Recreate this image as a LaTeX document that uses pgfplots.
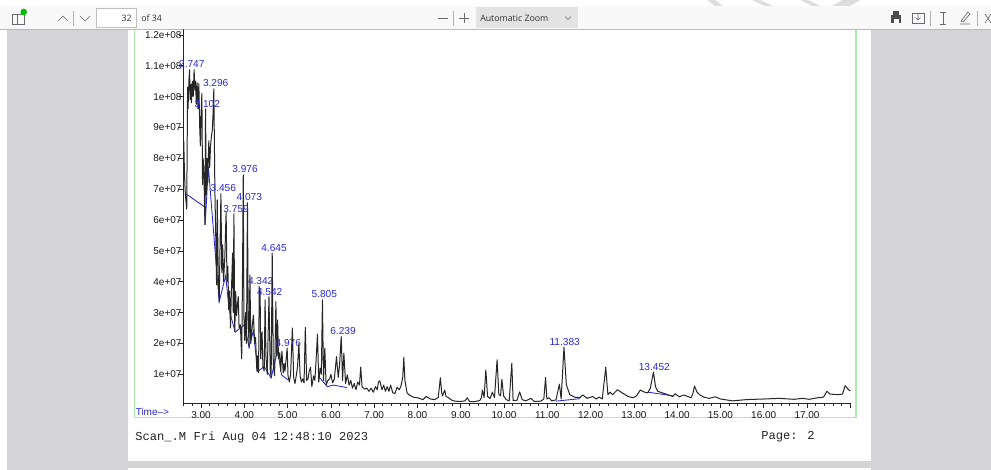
\documentclass[border=0pt]{standalone}
\usepackage{pgfplots}
\pgfplotsset{compat=1.18}
\usepackage{fontspec}
\setmainfont{Liberation Sans}
\newfontfamily\monof{Liberation Mono}
\newfontfamily\uif{Open Sans}
\definecolor{pagegray}{HTML}{D4D4D6}
\definecolor{barcol}{HTML}{F9F9FA}
\definecolor{frameg}{HTML}{A8EEA8}
\definecolor{labblue}{HTML}{2A2AD0}
\definecolor{icon}{HTML}{6A6A6C}
\begin{document}
\begin{tikzpicture}
\useasboundingbox (0,0) rectangle (743.25pt,-352.5pt);
\begin{scope}[x=0.75pt,y=-0.75pt]
\fill[white] (0,0) rectangle (991,470);
\fill[pagegray] (7,29) rectangle (991,470);
\fill[white] (127.5,29) rectangle (870.5,461);
\fill[white] (127.5,468) rectangle (870.5,470);
\draw[frameg,line width=0.85pt] (134.5,29) -- (134.5,417.7) -- (856,417.7) -- (856,29);
% toolbar
\foreach \a/\b in {707/723,752/773,800/820}{\fill[pagegray!80] (\a,0) -- (\a+8,0) -- (\b,6) -- (\b-8,6) -- cycle;}
\fill[pagegray!80] (832,6) -- (842,0) -- (860,0) -- (850,6) -- cycle;
\fill[barcol] (0,6) rectangle (991,29);
\draw[gray!55,line width=0.5pt] (0,29) -- (991,29);
\draw[icon,line width=0.5pt] (12,14) rectangle (24,24) (17,14) -- (17,24);
\fill[green!75!black] (23.7,12) circle (3.3);
\draw[icon,line width=0.5pt] (58,21) -- (63,16) -- (68,21);
\draw[gray!60,line width=0.5pt] (73,11) -- (73,26);
\draw[icon,line width=0.5pt] (80,16) -- (85,21) -- (90,16);
\filldraw[fill=white,draw=gray!50,line width=0.5pt] (96.5,8) rectangle (136,27);
\node[anchor=east,font=\uif\fontsize{6.6pt}{8pt}\selectfont,text=black!80,inner sep=0pt] at (132,18) {32};
\node[anchor=west,font=\uif\fontsize{6.6pt}{8pt}\selectfont,text=black!80,inner sep=0pt] at (141,18) {of 34};
\draw[icon,line width=0.6pt] (438,18.5) -- (448,18.5);
\draw[gray!60,line width=0.5pt] (453,11) -- (453,26);
\draw[icon,line width=0.6pt] (459,18.5) -- (469,18.5) (464,13.5) -- (464,23.5);
\fill[gray!22] (476,7) rectangle (578,28);
\node[anchor=west,font=\uif\fontsize{6.6pt}{8pt}\selectfont,text=black!80,inner sep=0pt] at (480,18) {Automatic Zoom};
\draw[icon,line width=0.5pt] (565,16.5) -- (568,19.5) -- (571,16.5);
\fill[black!70] (891,15) rectangle (901,23);
\fill[black!70] (893,11.5) rectangle (899,15);
\fill[white] (893.5,19) rectangle (898.5,24);
\draw[icon,line width=0.5pt] (912,13) rectangle (924,23);
\draw[icon,line width=0.5pt] (918,14) -- (918,20) (915.5,17.5) -- (918,20) -- (920.5,17.5);
\draw[gray!60,line width=0.5pt] (930,11) -- (930,26);
\draw[icon,line width=0.5pt] (940,12) -- (946,12) (943,12) -- (943,24) (940,24) -- (946,24);
\draw[icon,line width=0.5pt] (960,24) -- (970,24) (961,21) -- (968,12) -- (970,14) -- (963,22) -- cycle;
\draw[gray!60,line width=0.5pt] (977,11) -- (977,26);
\draw[icon,line width=0.5pt] (985,14) -- (991,23) (991,14) -- (985,23);
\end{scope}
\begin{axis}[
  at={(137.775pt,-302.25pt)}, anchor=south west,
  scale only axis, width=500.6pt, height=280.5pt,
  xmin=2.6, xmax=18.02, ymin=0.07, ymax=12.19,
  axis x line=bottom, axis y line=left,
  axis line style={-, line width=0.6pt, black!85},
  tick align=outside, tick style={black!85,line width=0.5pt},
  major tick length=3.6pt, minor tick length=2.2pt,
  xtick={3,4,...,17}, extra x ticks={18}, extra x tick labels={},
  minor xtick={2.6,2.8,3.2,3.4,3.6,3.8,4.2,4.4,4.6,4.8,5.2,5.4,5.6,5.8,6.2,6.4,6.6,6.8,7.2,7.4,7.6,7.8,8.2,8.4,8.6,8.8,9.2,9.4,9.6,9.8,10.2,10.4,10.6,10.8,11.2,11.4,11.6,11.8,12.2,12.4,12.6,12.8,13.2,13.4,13.6,13.8,14.2,14.4,14.6,14.8,15.2,15.4,15.6,15.8,16.2,16.4,16.6,16.8,17.2,17.4,17.6,17.8},
  xticklabels={3.00,4.00,5.00,6.00,7.00,8.00,9.00,10.00,11.00,12.00,13.00,14.00,15.00,16.00,17.00},
  ytick={1,2,...,12},
  yticklabels={1e+07,2e+07,3e+07,4e+07,5e+07,6e+07,7e+07,8e+07,9e+07,1e+08,1.1e+08,1.2e+08},
  ticklabel style={font=\fontsize{7.5pt}{9pt}\selectfont,text=black!90},
  xticklabel style={yshift=1pt},
  yticklabel style={xshift=5.5pt},
  clip=false,
]
\addplot[labblue,line width=0.65pt] coordinates {(2.65,6.85)(3.09,6.42)(3.095,5.84)(3.17,7.72)(3.42,3.35)(3.57,4.2)(3.65,3.08)(3.79,2.37)(4.0,2.6)(4.11,1.89)(4.21,2.4)(4.31,1.09)(4.46,1.25)(4.62,0.88)(4.77,1.79)(4.86,0.98)(5.01,0.82)};
\addplot[labblue,line width=0.65pt] coordinates {(5.72,0.92)(5.92,0.6)(6.06,0.65)(6.37,0.57)};
\addplot[labblue,line width=0.65pt] coordinates {(11.2,0.13)(11.75,0.21)};
\addplot[labblue,line width=0.65pt] coordinates {(13.33,0.42)(13.91,0.3)};
\addplot[black!85,line width=0.75pt,line join=round] coordinates {
(2.60,8.6)(2.62,7.4)(2.64,6.8)(2.67,6.35)(2.69,10.3)(2.70,9.6)(2.72,10.5)(2.735,10.87)(2.75,9.9)(2.77,10.4)(2.78,9.8)(2.80,10.5)(2.82,10.0)(2.84,10.87)(2.86,10.2)(2.875,10.5)(2.89,9.75)(2.91,10.45)(2.93,9.6)(2.95,10.42)(2.97,9.0)(2.985,8.4)(3.00,9.4)(3.02,10.1)(3.035,7.15)(3.05,8.0)(3.07,7.3)(3.09,5.85)(3.105,9.6)(3.12,6.8)(3.14,8.0)(3.155,7.2)(3.18,8.57)(3.20,7.7)(3.22,8.4)(3.24,8.7)(3.26,8.9)(3.28,9.5)(3.296,10.25)(3.32,7.0)(3.34,5.5)(3.36,3.9)(3.375,6.65)(3.40,4.0)(3.42,3.35)(3.44,5.2)(3.46,6.85)(3.48,4.3)(3.50,5.2)(3.52,4.0)(3.55,4.8)(3.58,6.27)(3.60,4.0)(3.62,4.5)(3.64,3.1)(3.66,3.7)(3.68,2.5)(3.70,3.6)(3.73,4.93)(3.745,3.0)(3.76,6.2)(3.78,2.38)(3.80,3.68)(3.82,2.9)(3.86,3.52)(3.88,2.5)(3.91,2.6)(3.94,1.5)(3.96,4.5)(3.976,7.46)(3.99,2.9)(4.01,2.1)(4.03,3.0)(4.05,2.0)(4.073,6.56)(4.09,2.8)(4.11,1.85)(4.13,4.22)(4.15,2.0)(4.18,2.5)(4.21,2.92)(4.24,2.0)(4.26,2.2)(4.29,1.1)(4.31,1.6)(4.33,1.05)(4.345,3.84)(4.355,2.9)(4.365,3.7)(4.38,1.5)(4.41,2.38)(4.43,1.25)(4.46,1.1)(4.48,3.41)(4.50,1.6)(4.53,1.0)(4.57,3.52)(4.60,1.1)(4.62,0.9)(4.645,4.93)(4.67,1.3)(4.70,0.95)(4.73,3.35)(4.75,1.6)(4.77,2.76)(4.79,1.5)(4.82,1.7)(4.84,1.1)(4.87,1.75)(4.90,1.05)(4.92,1.35)(4.94,1.1)(4.96,1.4)(4.99,1.85)(5.01,0.95)(5.04,0.75)(5.07,1.0)(5.11,2.5)(5.14,0.9)(5.17,0.7)(5.2,0.95)(5.23,1.25)(5.26,2.0)(5.29,0.95)(5.32,0.75)(5.35,0.85)(5.38,0.72)(5.41,2.52)(5.44,0.8)(5.47,0.85)(5.5,1.1)(5.53,1.23)(5.56,0.6)(5.6,0.95)(5.63,0.8)(5.66,1.5)(5.69,2.3)(5.72,0.75)(5.75,1.2)(5.78,1.0)(5.805,3.41)(5.83,0.8)(5.86,1.85)(5.89,0.65)(5.93,0.8)(5.97,0.85)(6.0,1.0)(6.04,0.72)(6.08,0.85)(6.13,1.57)(6.17,0.9)(6.2,1.3)(6.239,2.22)(6.27,0.8)(6.3,1.69)(6.34,0.7)(6.38,0.98)(6.42,0.65)(6.46,0.8)(6.5,0.55)(6.54,0.7)(6.58,0.5)(6.62,0.75)(6.66,0.65)(6.69,1.23)(6.72,0.6)(6.78,0.52)(6.83,0.55)(6.88,0.45)(6.93,0.55)(6.98,0.42)(7.03,0.6)(7.07,0.5)(7.1,0.75)(7.13,0.79)(7.18,0.5)(7.22,0.65)(7.26,0.45)(7.3,0.6)(7.34,0.45)(7.38,0.65)(7.43,0.4)(7.48,0.38)(7.53,0.58)(7.58,0.5)(7.62,0.62)(7.66,0.9)(7.685,1.55)(7.71,0.8)(7.76,0.4)(7.8,0.34)(7.9,0.26)(8.0,0.24)(8.13,0.18)(8.2,0.28)(8.3,0.2)(8.4,0.18)(8.48,0.25)(8.53,0.89)(8.56,0.4)(8.58,0.3)(8.63,0.49)(8.66,0.28)(8.71,0.25)(8.78,0.17)(8.86,0.13)(9.0,0.12)(9.1,0.14)(9.15,0.24)(9.2,0.12)(9.3,0.11)(9.44,0.15)(9.48,0.25)(9.5,0.49)(9.54,0.25)(9.58,1.14)(9.62,0.28)(9.68,0.22)(9.73,0.42)(9.78,0.25)(9.84,1.47)(9.88,0.35)(9.92,0.3)(9.95,0.84)(9.99,0.3)(10.05,0.18)(10.12,0.14)(10.18,1.36)(10.21,0.15)(10.3,0.16)(10.36,0.43)(10.42,0.18)(10.5,0.14)(10.62,0.22)(10.7,0.12)(10.85,0.13)(10.92,0.2)(10.96,0.9)(10.99,0.2)(11.04,0.24)(11.1,0.14)(11.2,0.17)(11.28,0.68)(11.32,0.2)(11.385,1.88)(11.44,0.66)(11.52,0.34)(11.63,0.26)(11.75,0.24)(11.82,0.33)(11.92,0.22)(12.05,0.28)(12.13,0.2)(12.2,0.26)(12.27,0.2)(12.35,1.23)(12.4,0.34)(12.45,0.42)(12.51,0.34)(12.62,0.5)(12.75,0.38)(12.87,0.28)(12.98,0.24)(13.06,0.3)(13.15,0.49)(13.25,0.42)(13.32,0.4)(13.38,0.55)(13.452,1.07)(13.5,0.6)(13.55,0.45)(13.74,0.36)(13.9,0.28)(13.95,0.37)(14.05,0.27)(14.15,0.33)(14.32,0.24)(14.36,0.36)(14.4,0.62)(14.46,0.42)(14.52,0.34)(14.62,0.26)(14.74,0.22)(14.88,0.27)(15.0,0.2)(15.28,0.14)(15.6,0.18)(16.0,0.2)(16.36,0.22)(16.7,0.19)(16.9,0.22)(17.05,0.19)(17.25,0.24)(17.38,0.26)(17.46,0.45)(17.53,0.36)(17.7,0.34)(17.82,0.36)(17.88,0.63)(17.93,0.55)(17.96,0.5)(18.0,0.46)};
\end{axis}
\begin{scope}[x=0.75pt,y=-0.75pt]
\foreach \t/\a/\b in {2.747/191.8/63.7,3.296/215.7/83.3,3.102/207.3/104,3.976/245/169,3.456/223.3/188.3,4.073/249.3/197.3,3.759/236/209,4.645/274/247.7,4.342/260.7/280.7,4.542/269.7/292,4.976/288.3/343.3,5.805/324.3/294,6.239/343/330.7,11.383/564.7/341.7,13.452/654.3/366.7}{
  \node[text=labblue,inner sep=0pt,font=\fontsize{7.6pt}{9pt}\selectfont] at (\a,\b) {\t};}
\node[anchor=west,text=labblue,inner sep=0pt,font=\fontsize{7.5pt}{9pt}\selectfont] at (135.5,412) {Time-->};
\node[anchor=west,text=black!85,inner sep=0pt,font=\monof\fontsize{9.1pt}{11pt}\selectfont] at (135,437) {Scan\_.M Fri Aug 04 12:48:10 2023};
\node[anchor=west,text=black!85,inner sep=0pt,font=\monof\fontsize{9.1pt}{11pt}\selectfont] at (761,437) {Page: 2};
\end{scope}
\end{tikzpicture}
\end{document}
